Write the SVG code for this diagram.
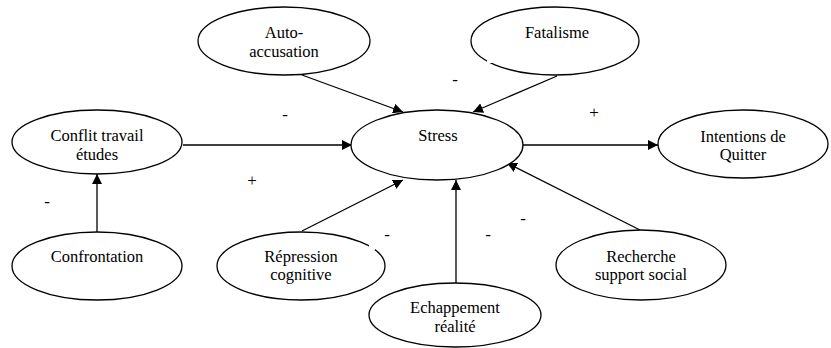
<svg xmlns="http://www.w3.org/2000/svg" width="831" height="348" viewBox="0 0 831 348" font-family="Liberation Serif">
<defs>
<marker id="arr" viewBox="0 0 10 10" refX="10" refY="5" markerWidth="10" markerHeight="10" markerUnits="userSpaceOnUse" orient="auto">
<path d="M0,0 L10,5 L0,10 z" fill="#000"/>
</marker>
<style>
.n ellipse{fill:#fff;stroke:#000;stroke-width:1.3}
.c line{stroke:#000;stroke-width:1.3;marker-end:url(#arr)}
</style>
</defs>
<rect width="831" height="348" fill="#fff"/>
<g class="c" id="connectors">
<line x1="302" y1="75" x2="403" y2="112"/>
<line x1="557" y1="76" x2="473" y2="112"/>
<line x1="183" y1="145" x2="352" y2="145"/>
<line x1="523" y1="145" x2="658" y2="145"/>
<line x1="97" y1="232" x2="97" y2="174"/>
<line x1="302" y1="231" x2="403" y2="180"/>
<line x1="456" y1="283" x2="456" y2="180"/>
<line x1="640" y1="230" x2="507" y2="163"/>
</g>
<g id="nodes" font-family="Liberation Serif" font-size="16.5" text-anchor="middle" fill="#000">
<g class="n" id="auto-accusation"><ellipse cx="284" cy="41" rx="86" ry="34"/><text font-family="Liberation Serif" x="284" y="38">Auto-</text><text font-family="Liberation Serif" x="284" y="57">accusation</text></g>
<g class="n" id="fatalisme"><ellipse cx="555" cy="41" rx="84" ry="34"/><text font-family="Liberation Serif" x="557" y="38">Fatalisme</text></g>
<g class="n" id="stress"><ellipse cx="437" cy="145" rx="86" ry="35"/><text font-family="Liberation Serif" x="438" y="141">Stress</text></g>
<g class="n" id="conflit"><ellipse cx="97" cy="142" rx="85" ry="32"/><text font-family="Liberation Serif" x="97" y="141">Conflit travail</text><text font-family="Liberation Serif" x="97" y="160">études</text></g>
<g class="n" id="intentions"><ellipse cx="743" cy="144" rx="85" ry="34"/><text font-family="Liberation Serif" x="743" y="142">Intentions de</text><text font-family="Liberation Serif" x="743" y="160">Quitter</text></g>
<g class="n" id="confrontation"><ellipse cx="97" cy="266" rx="85" ry="34"/><text font-family="Liberation Serif" x="97" y="262">Confrontation</text></g>
<g class="n" id="repression"><ellipse cx="301" cy="266" rx="84" ry="34"/><text font-family="Liberation Serif" x="301" y="262">Répression</text><text font-family="Liberation Serif" x="301" y="280">cognitive</text></g>
<g class="n" id="echappement"><ellipse cx="455" cy="315" rx="86" ry="32"/><text font-family="Liberation Serif" x="455" y="313">Echappement</text><text font-family="Liberation Serif" x="455" y="332">réalité</text></g>
<g class="n" id="recherche"><ellipse cx="641" cy="265" rx="85" ry="35"/><text font-family="Liberation Serif" x="641" y="262">Recherche</text><text font-family="Liberation Serif" x="641" y="280">support social</text></g>
</g>
<g id="gaps" fill="#fff">
<rect x="487" y="56" width="6" height="7"/>
<rect x="369" y="244" width="6" height="6"/>
</g>
<g id="signs" font-family="Liberation Serif" font-size="17" text-anchor="middle" fill="#000">
<text font-family="Liberation Serif" x="285" y="120">-</text>
<text font-family="Liberation Serif" x="455" y="85">-</text>
<text font-family="Liberation Serif" x="594" y="118">+</text>
<text font-family="Liberation Serif" x="252" y="186">+</text>
<text font-family="Liberation Serif" x="47" y="207">-</text>
<text font-family="Liberation Serif" x="387" y="240">-</text>
<text font-family="Liberation Serif" x="488" y="240">-</text>
<text font-family="Liberation Serif" x="523" y="224">-</text>
</g>
</svg>
